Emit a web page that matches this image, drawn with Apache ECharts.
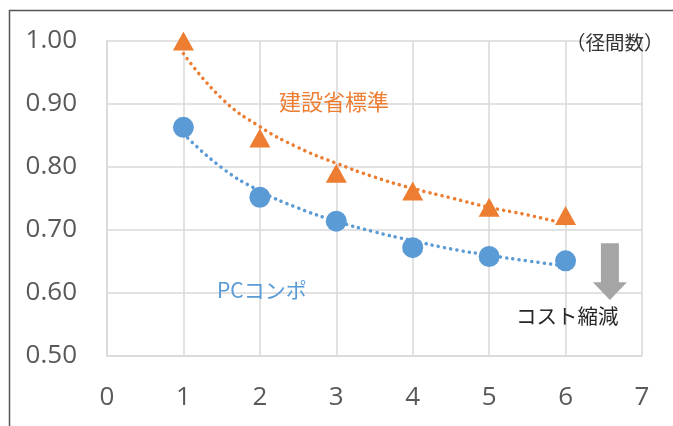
<!DOCTYPE html>
<html>
<head>
<meta charset="utf-8">
<script src="https://cdn.jsdelivr.net/npm/echarts@6/dist/echarts.min.js"></script>
<style>
  html, body { margin: 0; padding: 0; background: #ffffff; }
  #chart { width: 673px; height: 426px; }
</style>
</head>
<body>
<div id="chart"></div>
<script>
// Span count (径間数) on the x axis
const spans = [1, 2, 3, 4, 5, 6];

// Relative cost per span count
const standardCost = [1.00, 0.846, 0.790, 0.762, 0.736, 0.723];   // 建設省標準
const pcCompoCost  = [0.863, 0.752, 0.714, 0.672, 0.658, 0.651];  // PCコンポ

// Fitted trend curves, sampled every half span
const trendX        = [1, 1.5, 2, 2.5, 3, 3.5, 4, 4.5, 5, 5.5, 6];
const standardTrend = [0.980, 0.909, 0.864, 0.831, 0.806, 0.784, 0.766, 0.751, 0.736, 0.724, 0.710];
const pcCompoTrend  = [0.853, 0.799, 0.762, 0.735, 0.714, 0.697, 0.683, 0.670, 0.660, 0.651, 0.643];

// Axis ticks
const xTicks = [0, 1, 2, 3, 4, 5, 6, 7];
const yTicks = [0.50, 0.60, 0.70, 0.80, 0.90, 1.00];

const ORANGE = '#ED7D31';
const BLUE = '#5B9BD5';
const GRID = '#D9D9D9';
const LABEL = '#595959';
const NUM_FONT = '"Open Sans", "Noto Sans", sans-serif';
const JP_FONT = '"Noto Sans CJK JP", sans-serif';

const pairs = (xs, ys) => xs.map((x, i) => [x, ys[i]]);

const chart = echarts.init(document.getElementById('chart'), null, { renderer: 'canvas' });

const dotted = (color) => ({
  color: color,
  width: 3.5,
  type: [0.1, 6.2],
  cap: 'round'
});

chart.setOption({
  animation: false,
  backgroundColor: '#ffffff',
  grid: { left: 107, right: 31, top: 41, bottom: 70, containLabel: false },
  xAxis: {
    type: 'value',
    min: xTicks[0],
    max: xTicks[xTicks.length - 1],
    interval: 1,
    axisLine: { show: true, lineStyle: { color: GRID, width: 1.5 } },
    axisTick: { show: false },
    splitLine: { show: true, lineStyle: { color: GRID, width: 1.5 } },
    axisLabel: {
      color: LABEL, fontSize: 26, fontFamily: NUM_FONT, margin: 29,
      formatter: (v) => String(v)
    }
  },
  yAxis: {
    type: 'value',
    min: yTicks[0],
    max: yTicks[yTicks.length - 1],
    interval: 0.1,
    axisLine: { show: true, lineStyle: { color: GRID, width: 1.5 } },
    axisTick: { show: false },
    splitLine: { show: true, lineStyle: { color: GRID, width: 1.5 } },
    axisLabel: {
      color: LABEL, fontSize: 26, fontFamily: NUM_FONT, margin: 30,
      formatter: (v) => v.toFixed(2)
    }
  },
  series: [
    {
      name: '建設省標準 trend',
      type: 'line',
      data: pairs(trendX, standardTrend),
      smooth: true,
      showSymbol: false,
      lineStyle: dotted(ORANGE),
      z: 2
    },
    {
      name: 'PCコンポ trend',
      type: 'line',
      data: pairs(trendX, pcCompoTrend),
      smooth: true,
      showSymbol: false,
      lineStyle: dotted(BLUE),
      z: 2
    },
    {
      name: '建設省標準',
      type: 'scatter',
      data: pairs(spans, standardCost),
      symbol: 'triangle',
      symbolSize: [21, 19],
      itemStyle: { color: ORANGE, opacity: 1 },
      z: 3
    },
    {
      name: 'PCコンポ',
      type: 'scatter',
      data: pairs(spans, pcCompoCost),
      symbol: 'circle',
      symbolSize: 21,
      itemStyle: { color: BLUE, opacity: 1 },
      z: 3
    }
  ]
});

// Down arrow marking the cost reduction, placed in data coordinates
const arrowTop = chart.convertToPixel({ gridIndex: 0 }, [6.58, 0.679]);
const arrowNeck = chart.convertToPixel({ gridIndex: 0 }, [6.58, 0.617]);
const arrowTip = chart.convertToPixel({ gridIndex: 0 }, [6.58, 0.589]);
const ax = arrowTop[0];

chart.setOption({
  graphic: [
    // outer frame (left and top edges)
    {
      type: 'polyline',
      shape: { points: [[9.5, 426], [9.5, 10.5], [673, 10.5]] },
      style: { stroke: '#555555', lineWidth: 1.5, fill: null },
      silent: true
    },
    {
      type: 'polygon',
      shape: {
        points: [
          [ax - 9, arrowTop[1]], [ax + 9, arrowTop[1]], [ax + 9, arrowNeck[1]],
          [ax + 17, arrowNeck[1]], [ax, arrowTip[1]], [ax - 17, arrowNeck[1]], [ax - 9, arrowNeck[1]]
        ]
      },
      style: { fill: '#A5A5A5' },
      z: 10
    },
    {
      type: 'text', left: 279, top: 91,
      style: { text: '建設省標準', fill: ORANGE, font: '22px ' + JP_FONT },
      z: 10
    },
    {
      type: 'text', left: 217, top: 280,
      style: { text: 'PCコンポ', fill: BLUE, font: '21px ' + JP_FONT },
      z: 10
    },
    {
      type: 'text', left: 516, top: 306,
      style: { text: 'コスト縮減', fill: '#262626', font: '20.5px ' + JP_FONT },
      z: 10
    },
    {
      type: 'text', left: 566, top: 33,
      style: { text: '（径間数）', fill: '#333333', font: '19.5px ' + JP_FONT },
      z: 10
    }
  ]
});
</script>
</body>
</html>
